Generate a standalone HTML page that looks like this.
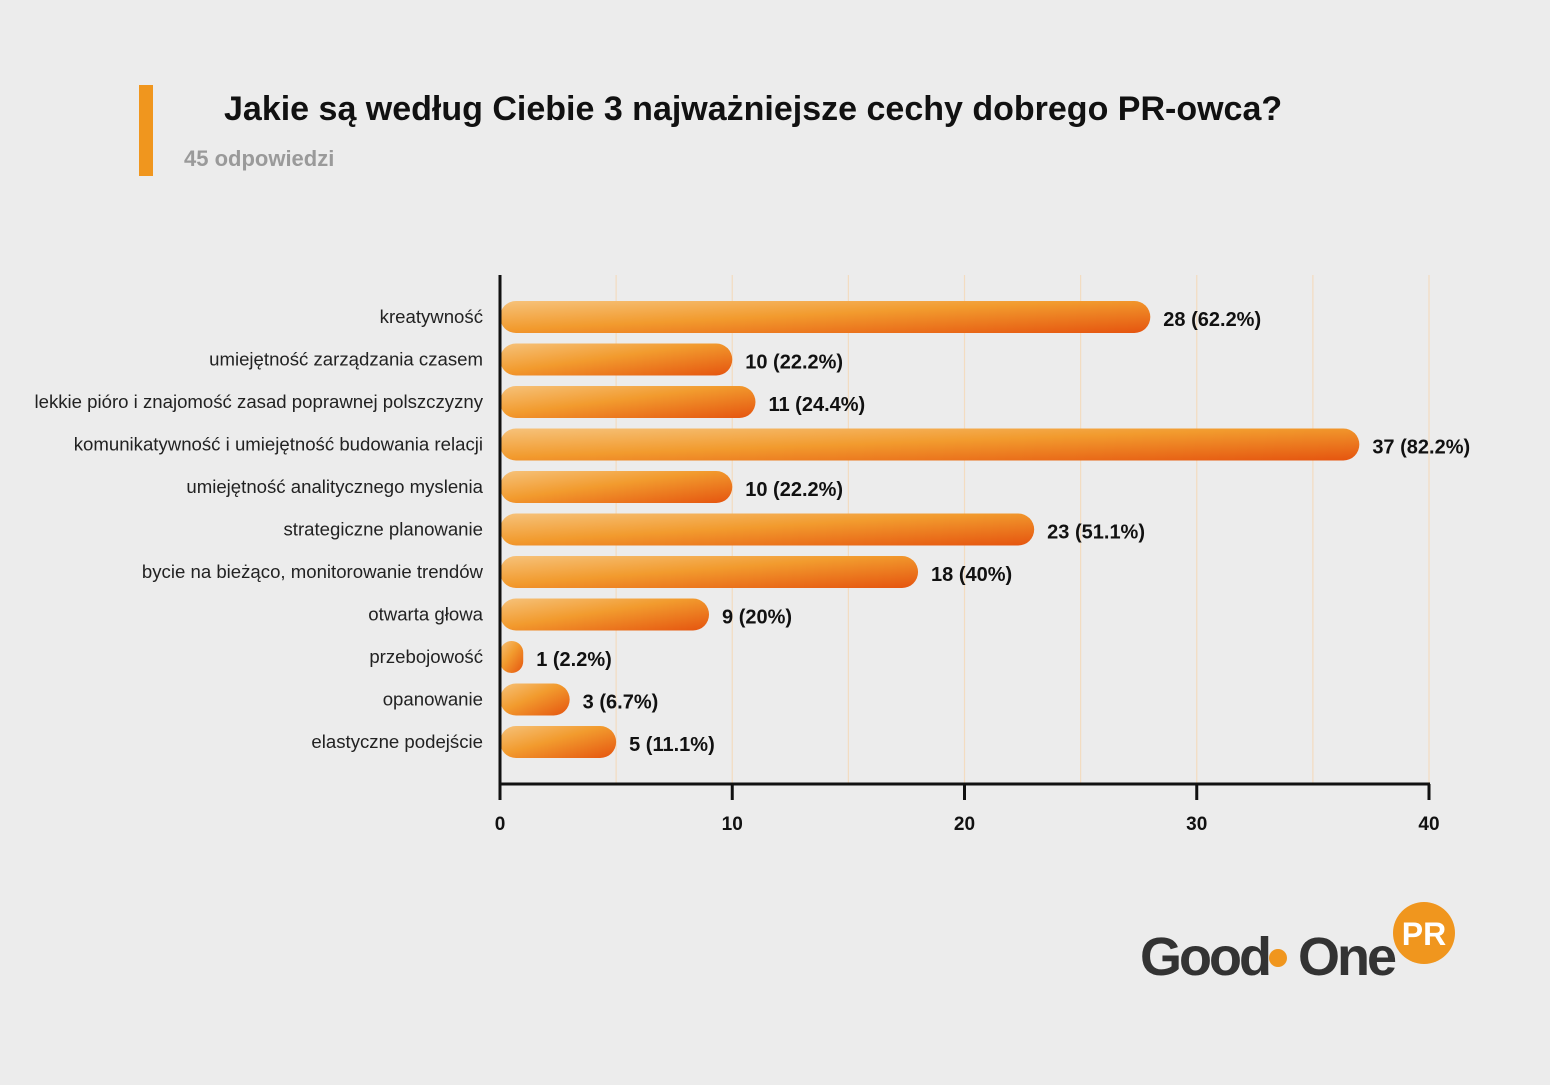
<!DOCTYPE html>
<html><head><meta charset="utf-8"><style>
body{margin:0;width:1550px;height:1080px;background:#ececec;overflow:hidden;font-family:"Liberation Sans","DejaVu Sans",sans-serif}
</style></head><body>
<svg width="1550" height="1080" xmlns="http://www.w3.org/2000/svg">
<defs>
<linearGradient id="g" x1="0" y1="0" x2="1" y2="1" gradientUnits="objectBoundingBox">
<stop offset="0" stop-color="#f6c27a"/><stop offset="0.45" stop-color="#f29b2e"/><stop offset="1" stop-color="#e5540f"/>
</linearGradient>
</defs>
<rect x="139" y="85" width="14" height="91" fill="#f0961e"/>
<text x="224" y="120" font-size="34" font-weight="bold" fill="#111">Jakie są według Ciebie 3 najważniejsze cechy dobrego PR-owca?</text>
<text x="184" y="166" font-size="22" fill="#9a9a9a" font-weight="bold">45 odpowiedzi</text>
<g id="grid"></g><g id="bars"></g><g id="axis"></g>
<g>
<text x="1140" y="975" font-size="54" font-weight="bold" fill="#333" letter-spacing="-3">Good</text>
<circle cx="1278" cy="958" r="9" fill="#f0961e"/>
<text x="1298" y="975" font-size="54" font-weight="bold" fill="#333" letter-spacing="-3">One</text>
<circle cx="1424" cy="933" r="31" fill="#f0961e"/>
<text x="1424" y="945" font-size="32" font-weight="bold" fill="#fff" text-anchor="middle">PR</text>
</g>
</svg>
<script>
const categories=["kreatywność","umiejętność zarządzania czasem","lekkie pióro i znajomość zasad poprawnej polszczyzny","komunikatywność i umiejętność budowania relacji","umiejętność analitycznego myslenia","strategiczne planowanie","bycie na bieżąco, monitorowanie trendów","otwarta głowa","przebojowość","opanowanie","elastyczne podejście"];
const values=[28,10,11,37,10,23,18,9,1,3,5];
const valueLabels=["28 (62.2%)","10 (22.2%)","11 (24.4%)","37 (82.2%)","10 (22.2%)","23 (51.1%)","18 (40%)","9 (20%)","1 (2.2%)","3 (6.7%)","5 (11.1%)"];
const ticks=[0,10,20,30,40];
const ns="http://www.w3.org/2000/svg";
const x=v=>500+v*(929/40);
const y=i=>317+i*42.5;
function mk(t,a,p){const e=document.createElementNS(ns,t);for(const k in a)e.setAttribute(k,a[k]);p.appendChild(e);return e;}
const G=document.getElementById('grid'),B=document.getElementById('bars'),A=document.getElementById('axis');
for(let v=5;v<=40;v+=5){const l=mk('line',{x1:x(v),x2:x(v),y1:275,y2:784,stroke:'#f3dcc0','stroke-width':1.2},G);

}
categories.forEach((c,i)=>{
const t=mk('text',{x:483,y:y(i)+6,'font-size':18.6,fill:'#222','text-anchor':'end'},B);t.textContent=c;


const w=x(values[i])-500;
const r=mk('rect',{x:500,y:y(i)-16,width:w,height:32,rx:Math.min(16,w/2),fill:'url(#g)'},B);


const vl=mk('text',{x:x(values[i])+13,y:y(i)+9,'font-size':20,'font-weight':'bold',fill:'#111'},B);vl.textContent=valueLabels[i];


});
const ya=mk('line',{x1:500,x2:500,y1:275,y2:784,stroke:'#111','stroke-width':3},A);


const xa=mk('line',{x1:498.5,x2:1430,y1:784,y2:784,stroke:'#111','stroke-width':3},A);


ticks.forEach(v=>{mk('line',{x1:x(v),x2:x(v),y1:784,y2:800,stroke:'#111','stroke-width':3},A);
const t=mk('text',{x:x(v),y:830,'font-size':19,'font-weight':'bold',fill:'#111','text-anchor':'middle'},A);t.textContent=v;

});
</script>
</body></html>
